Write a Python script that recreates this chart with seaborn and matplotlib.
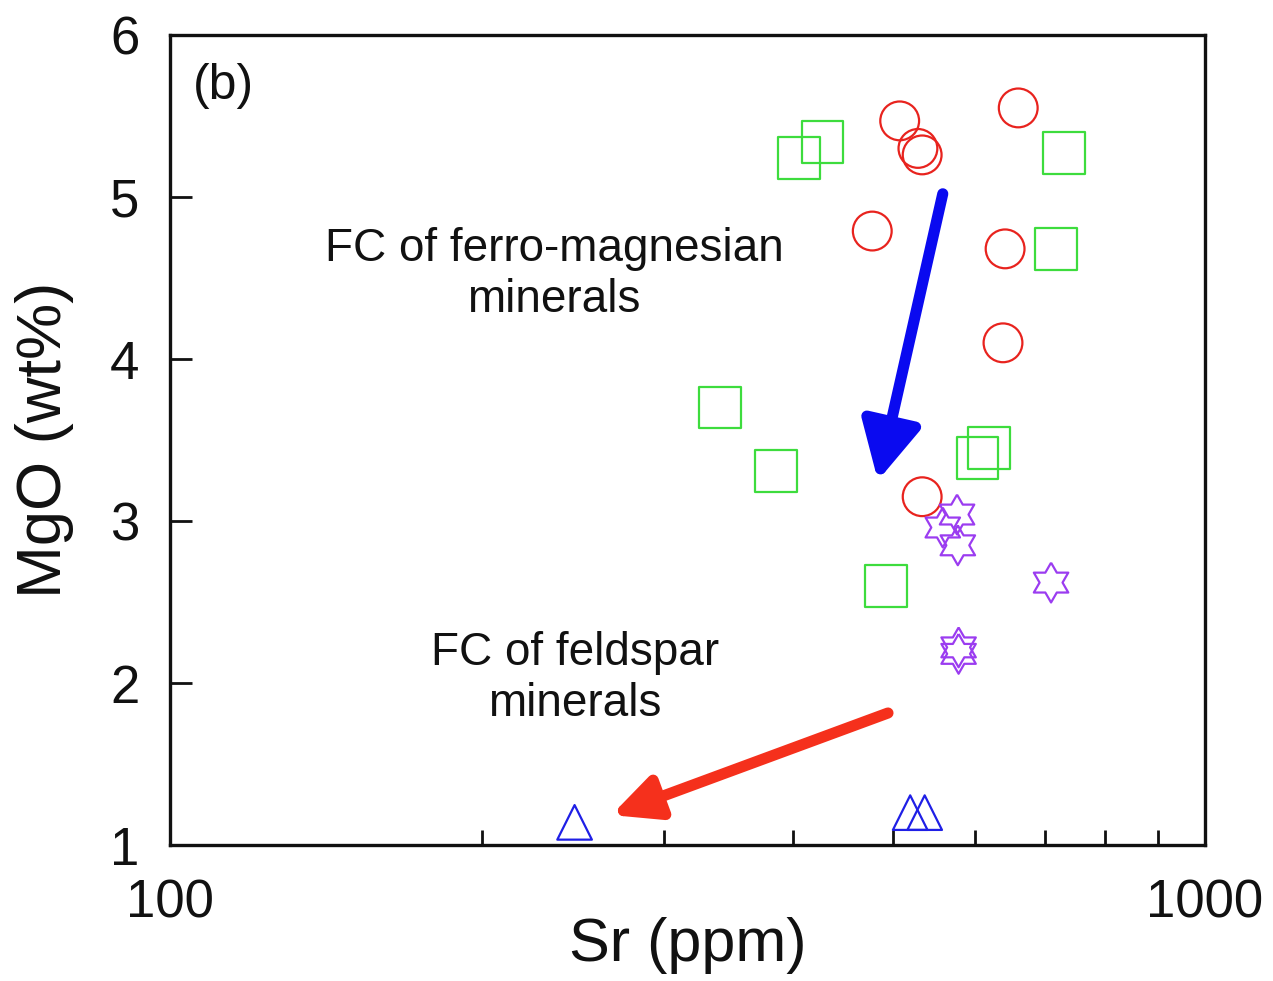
import numpy as np
import pandas as pd
import matplotlib
matplotlib.use('Agg')
import matplotlib.pyplot as plt
import seaborn as sns
from matplotlib.ticker import FixedLocator, NullFormatter

sns.set_theme(style='white')
plt.rcParams['font.family'] = ['Liberation Sans', 'DejaVu Sans']
plt.rcParams['text.color'] = '#111111'
plt.rcParams['axes.labelcolor'] = '#111111'
plt.rcParams['xtick.color'] = '#111111'
plt.rcParams['ytick.color'] = '#111111'

# --- data ----------------------------------------------------------------
circle_sr = [507, 528, 533, 660, 477, 641, 638, 533]
circle_mgo = [5.47, 5.30, 5.26, 5.55, 4.79, 4.68, 4.10, 3.15]

square_sr = [405, 427, 731, 718, 340, 385, 603, 618, 492]
square_mgo = [5.24, 5.34, 5.27, 4.68, 3.70, 3.31, 3.39, 3.45, 2.60]

star_sr = [576, 558, 577, 710, 578, 578]
star_mgo = [3.04, 2.96, 2.85, 2.62, 2.22, 2.18]

tri_sr = [246, 519, 536]
tri_mgo = [1.14, 1.20, 1.20]

# hexagram outline used for the star symbols (closed)
ang = np.deg2rad(90 + np.arange(13) * 30)
rad = np.where(np.arange(13) % 2 == 0, 1.0, 0.577)
HEXAGRAM = list(zip(rad * np.cos(ang), rad * np.sin(ang)))

groups = [
    (circle_sr, circle_mgo, 'o', '#e8231e', 780),
    (square_sr, square_mgo, 's', '#3ddc3d', 900),
    (star_sr, star_mgo, HEXAGRAM, '#9b3cf0', 820),
    (tri_sr, tri_mgo, '^', '#1f1fe6', 620),
]

fig = plt.figure(figsize=(12.73, 9.81), dpi=100)
ax = fig.add_axes([0.1335, 0.1386, 0.8131, 0.8257])

for sr, mgo, mk, col, size in groups:
    df = pd.DataFrame({'Sr': sr, 'MgO': mgo})
    sns.scatterplot(data=df, x='Sr', y='MgO', marker=mk, s=size,
                    facecolor='none', edgecolor=col, linewidth=1.6,
                    ax=ax, legend=False, zorder=3)

ax.set_xscale('log')
ax.set_xlim(100, 1000)
ax.set_ylim(1, 6)

ax.xaxis.set_major_locator(FixedLocator([100, 1000]))
ax.xaxis.set_minor_locator(FixedLocator([200, 300, 400, 500, 600, 700, 800, 900]))
ax.xaxis.set_minor_formatter(NullFormatter())
ax.set_xticks([100, 1000])
ax.set_xticklabels(['100', '1000'])
ax.set_yticks([1, 2, 3, 4, 5, 6])

ax.tick_params(axis='both', which='major', direction='in', length=16, width=2,
               labelsize=38, left=True, bottom=True)
ax.tick_params(axis='x', which='minor', direction='in', length=11, width=2,
               bottom=True)
ax.tick_params(axis='x', which='major', pad=24)
ax.tick_params(axis='y', which='major', pad=22)

for sp in ax.spines.values():
    sp.set_linewidth(2.4)
    sp.set_color('#111111')

ax.set_xlabel('Sr (ppm)', fontsize=44, labelpad=-8)
ax.set_ylabel('MgO (wt%)', fontsize=45.5, labelpad=26)

ax.text(0.022, 0.965, '(b)', transform=ax.transAxes, fontsize=36,
        ha='left', va='top')
ax.text(235, 4.52, 'FC of ferro-magnesian\nminerals', fontsize=33,
        ha='center', va='center', linespacing=1.2)
ax.text(246, 2.03, 'FC of feldspar\nminerals', fontsize=33,
        ha='center', va='center', linespacing=1.2)

# trend arrows
ax.annotate('', xy=(483, 3.25), xytext=(558, 5.02),
            arrowprops=dict(arrowstyle='-|>,head_length=2.9,head_width=1.5',
                            color='#0a0af0', lw=8, shrinkA=0, shrinkB=0))
ax.annotate('', xy=(267, 1.185), xytext=(494, 1.815),
            arrowprops=dict(arrowstyle='-|>,head_length=2.3,head_width=1.1',
                            color='#f5301c', lw=8, shrinkA=0, shrinkB=0))

fig.savefig('out.png', dpi=100)
